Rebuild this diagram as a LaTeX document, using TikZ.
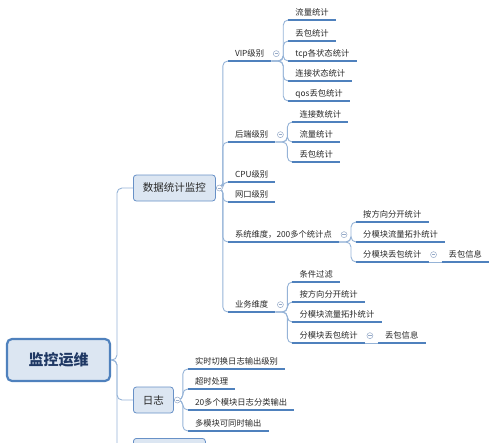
\documentclass[tikz,border=0pt]{standalone}
\usepackage{fontspec}
\setmainfont{Noto Sans CJK SC}
\usetikzlibrary{positioning}
\definecolor{boxfill}{RGB}{220,230,242}
\definecolor{boxline}{RGB}{104,145,199}
\definecolor{rootline}{RGB}{79,129,189}
\definecolor{roottext}{RGB}{31,56,100}
\definecolor{ulinecol}{RGB}{79,129,189}
\definecolor{branchcol}{RGB}{149,179,215}
\definecolor{foldcol}{RGB}{150,170,200}
\definecolor{leaftext}{RGB}{40,40,40}

\begin{document}
\begin{tikzpicture}[
    x=1pt, y=-1pt,
    root/.style={draw=rootline, line width=2.2pt, fill=boxfill, rounded corners=5pt,
        minimum width=103pt, minimum height=42pt,
        font=\fontsize{15}{18}\selectfont\bfseries, text=roottext},
    box/.style={draw=boxline, line width=0.8pt, fill=boxfill, rounded corners=3pt,
        inner xsep=9.5pt, minimum height=26pt,
        font=\fontsize{10.5}{12}\selectfont, text=leaftext},
    leaf/.style={anchor=south west, inner xsep=7pt, inner ysep=3pt,
        text height=7pt, text depth=1.3pt,
        font=\fontsize{8.3}{10}\selectfont, text=leaftext},
    branch/.style={draw=branchcol, line width=0.9pt, rounded corners=5pt},
    uline/.style={draw=ulinecol, line width=1.6pt},
    fold/.style={circle, draw=foldcol, fill=white, line width=0.5pt, inner sep=0pt,
        minimum size=6pt,
        path picture={\draw[foldcol, line width=0.5pt]
            ([xshift=-1.6pt]path picture bounding box.center) --
            ([xshift=1.6pt]path picture bounding box.center);}},
]
\useasboundingbox (0,0) rectangle (500,442);
\clip (0,0) rectangle (500,442);

% --- Root and first level boxes ---
\node[root] (root) at (58.5,360) {监控运维};
\node[box, anchor=west] (stat) at (133,188) {数据统计监控};
\node[box, anchor=west] (log) at (133,400) {日志};
\node[box, anchor=north west, minimum width=72pt] (misc) at (133,438) {};
\coordinate (rootfork) at (117,360);
\foreach \b in {stat,log,misc} {
    \draw[branch] (root.east) -- (rootfork) |- (\b.west);
}

% --- Second level: statistics ---
\coordinate (statfork) at ([xshift=7pt]stat.east);
\coordinate (statkid) at ([xshift=12pt]stat.east);
\foreach \n/\y/\t in {vip/61/VIP级别, backend/142/后端级别, cpu/182/CPU级别,
                      nic/202/网口级别, sysdim/242/{系统维度，200多个统计点}, bizdim/312/业务维度} {
    \node[leaf] (\n) at (statkid |- 0,\y) {\t};
    \draw[branch] (stat.east) -- (statfork) |- (\n.south west);
}

% --- Third level: VIP ---
\coordinate (vipfork) at ([xshift=12pt]vip.south east);
\coordinate (vipkid) at ([xshift=17pt]vip.south east);
\foreach \n/\y/\t in {vip1/20/流量统计, vip2/41/丢包统计, vip3/61/tcp各状态统计,
                      vip4/81/连接状态统计, vip5/101/qos丢包统计} {
    \node[leaf] (\n) at (vipkid |- 0,\y) {\t};
    \draw[branch] (vip.south east) -- (vipfork) |- (\n.south west);
}

% --- Third level: backend ---
\coordinate (befork) at ([xshift=12pt]backend.south east);
\coordinate (bekid) at ([xshift=17pt]backend.south east);
\foreach \n/\y/\t in {be1/122/连接数统计, be2/142/流量统计, be3/162/丢包统计} {
    \node[leaf] (\n) at (bekid |- 0,\y) {\t};
    \draw[branch] (backend.south east) -- (befork) |- (\n.south west);
}

% --- Third level: system dimension ---
\coordinate (sdfork) at ([xshift=12pt]sysdim.south east);
\coordinate (sdkid) at ([xshift=17pt]sysdim.south east);
\foreach \n/\y/\t in {sd1/222/按方向分开统计, sd2/242/分模块流量拓扑统计, sd3/262/分模块丢包统计} {
    \node[leaf] (\n) at (sdkid |- 0,\y) {\t};
    \draw[branch] (sysdim.south east) -- (sdfork) |- (\n.south west);
}
\node[leaf] (sdloss) at ([xshift=13pt]sd3.south east) {丢包信息};
\draw[branch] (sd3.south east) -- (sdloss.south west);

% --- Third level: business dimension ---
\coordinate (bdfork) at ([xshift=12pt]bizdim.south east);
\coordinate (bdkid) at ([xshift=17pt]bizdim.south east);
\foreach \n/\y/\t in {bd1/282/条件过滤, bd2/302/按方向分开统计,
                      bd3/322/分模块流量拓扑统计, bd4/343/分模块丢包统计} {
    \node[leaf] (\n) at (bdkid |- 0,\y) {\t};
    \draw[branch] (bizdim.south east) -- (bdfork) |- (\n.south west);
}
\node[leaf] (bdloss) at ([xshift=13pt]bd4.south east) {丢包信息};
\draw[branch] (bd4.south east) -- (bdloss.south west);

% --- Second level: log ---
\coordinate (lgfork) at ([xshift=9pt]log.east);
\coordinate (lgkid) at ([xshift=14pt]log.east);
\foreach \n/\y/\t in {lg1/369/实时切换日志输出级别, lg2/389/超时处理,
                      lg3/410/20多个模块日志分类输出, lg4/431/多模块可同时输出} {
    \node[leaf] (\n) at (lgkid |- 0,\y) {\t};
    \draw[branch] (log.east) -- (lgfork) |- (\n.south west);
}

% --- Underlines ---
\foreach \n in {vip,backend,cpu,nic,sysdim,bizdim,vip1,vip2,vip3,vip4,vip5,
                be1,be2,be3,sd1,sd2,sd3,sdloss,bd1,bd2,bd3,bd4,bdloss,lg1,lg2,lg3,lg4} {
    \draw[uline] (\n.south west) -- (\n.south east);
}

% --- Fold markers ---
\node[fold] (statfold) at ([xshift=3.5pt]stat.east) {};
\node[fold] (logfold) at ([xshift=3.5pt]log.east) {};
\foreach \n in {vip,backend,sysdim,bizdim,sd3,bd4} {
    \node[fold] (\n fold) at ([xshift=5pt]\n.east) {};
}

\end{tikzpicture}
\end{document}
